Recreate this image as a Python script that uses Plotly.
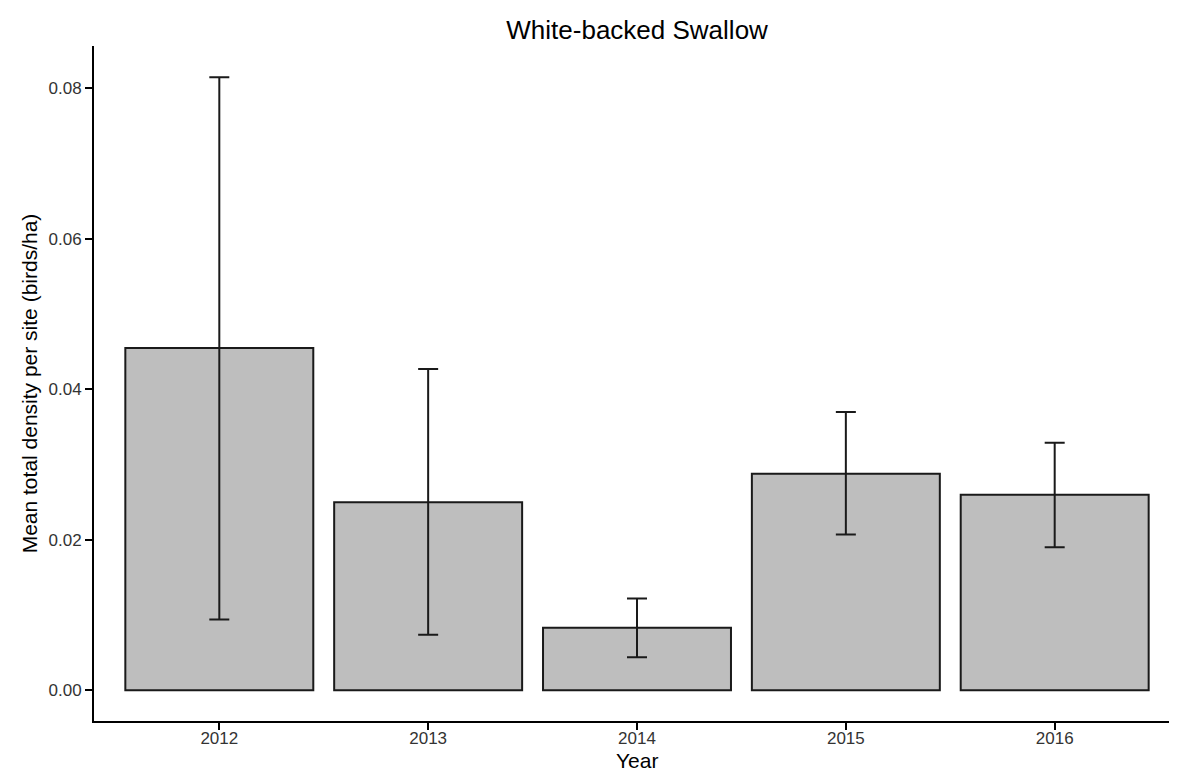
import plotly.graph_objects as go

years = ["2012", "2013", "2014", "2015", "2016"]
means = [0.0455, 0.0250, 0.0083, 0.0288, 0.0260]
upper = [0.0815, 0.0427, 0.0122, 0.0370, 0.0329]
lower = [0.0094, 0.0074, 0.0044, 0.0207, 0.0190]
ytick_vals = [0.00, 0.02, 0.04, 0.06, 0.08]
ytick_text = ["0.00", "0.02", "0.04", "0.06", "0.08"]

err_plus = [u - m for u, m in zip(upper, means)]
err_minus = [m - l for m, l in zip(means, lower)]

FONT = "Liberation Sans, Arial, Helvetica, sans-serif"
W, H = 1177, 770
ML, MR, MT, MB = 86, 5, 38, 57
plot_h = H - MT - MB

fig = go.Figure()
fig.add_trace(go.Bar(
    x=years, y=means, width=0.9,
    marker=dict(color="#BEBEBE", line=dict(color="#1a1a1a", width=2)),
    error_y=dict(type="data", array=err_plus, arrayminus=err_minus,
                 color="#1a1a1a", thickness=2, width=10, visible=True),
    showlegend=False,
))

fig.update_layout(
    width=W, height=H,
    margin=dict(l=ML, r=MR, t=MT, b=MB, pad=0),
    paper_bgcolor="white", plot_bgcolor="white",
    font=dict(family=FONT, color="black"),
    title=dict(text="White-backed Swallow", x=0.5345, xanchor="center",
               y=1 - 22 / H, yanchor="middle",
               font=dict(size=26, color="black", family=FONT)),
    bargap=0.1,
)
fig.add_annotation(
    text="Year", xref="paper", yref="paper", x=0.5, y=-(752.5 - (H - MB)) / plot_h,
    xanchor="center", yanchor="middle", showarrow=False, borderpad=0,
    font=dict(size=21, color="black", family=FONT),
)
fig.update_xaxes(
    type="category", range=[-0.6, 4.6],
    showline=True, linecolor="black", linewidth=2,
    ticks="outside", ticklen=7, tickwidth=2, tickcolor="black",
    tickfont=dict(size=17, color="#333333", family=FONT),
    ticklabelstandoff=-6,
    showgrid=False, zeroline=False,
)
fig.update_yaxes(
    range=[-0.00408, 0.08564],
    tickvals=ytick_vals, ticktext=ytick_text,
    showline=True, linecolor="black", linewidth=2,
    ticks="outside", ticklen=7, tickwidth=2, tickcolor="black",
    tickfont=dict(size=17, color="#333333", family=FONT),
    showgrid=False, zeroline=False,
    title=dict(text="Mean total density per site (birds/ha)",
               font=dict(size=21, color="black", family=FONT), standoff=5),
)

fig.write_html("out.html")
